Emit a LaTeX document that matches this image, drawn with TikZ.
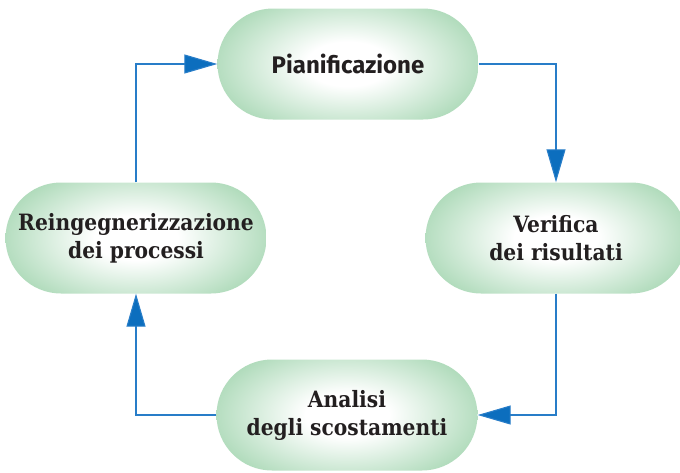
\documentclass[tikz,border=0pt]{standalone}
\usepackage{fontspec}
\usetikzlibrary{shapes.misc,arrows.meta,calc}
\newfontfamily\slabfont{DejaVuSerifCondensed-Bold.ttf}
\newfontfamily\pfont{Fira Sans}
\definecolor{pillgreen}{RGB}{156,210,170}
\definecolor{linkblue}{RGB}{40,125,200}
\definecolor{tipblue}{RGB}{12,110,190}
\definecolor{txt}{RGB}{35,31,32}
\pgfdeclareradialshading{pill}{\pgfpoint{0bp}{0bp}}{color(0bp)=(white); color(8bp)=(white); color(31bp)=(pillgreen); color(50bp)=(pillgreen)}
\begin{document}
\begin{tikzpicture}[x=1pt,y=-1pt,
  pill/.style={rounded rectangle, minimum width=261pt, minimum height=111pt,
    inner sep=0pt, text=txt, align=center,
    font=\slabfont\fontsize{22.5}{28}\selectfont,
    path picture={\shade[shading=pill]
      ($(path picture bounding box.south west)+(0,-14pt)$) rectangle
      ($(path picture bounding box.north east)+(0,14pt)$);}},
  conn/.style={draw=linkblue, line width=1.1pt,
    -{Triangle[length=33pt,width=19pt,fill=tipblue]}}]
\useasboundingbox (0,0) rectangle (680,472);
\node[pill, font=\pfont\bfseries\fontsize{24}{28}\selectfont] (P) at (348,64) {Pianificazione};
\node[pill] (V) at (556,238) {Verifica\\dei risultati};
\node[pill] (A) at (347,415) {Analisi\\degli scostamenti};
\node[pill] (R) at (136,238) {Reingegnerizzazione\\dei processi};
\draw[conn] (R.north) |- (P.west);
\draw[conn] (P.east) -| (V.north);
\draw[conn] (V.south) |- (A.east);
\draw[conn] (A.west) -| (R.south);
\end{tikzpicture}
\end{document}
